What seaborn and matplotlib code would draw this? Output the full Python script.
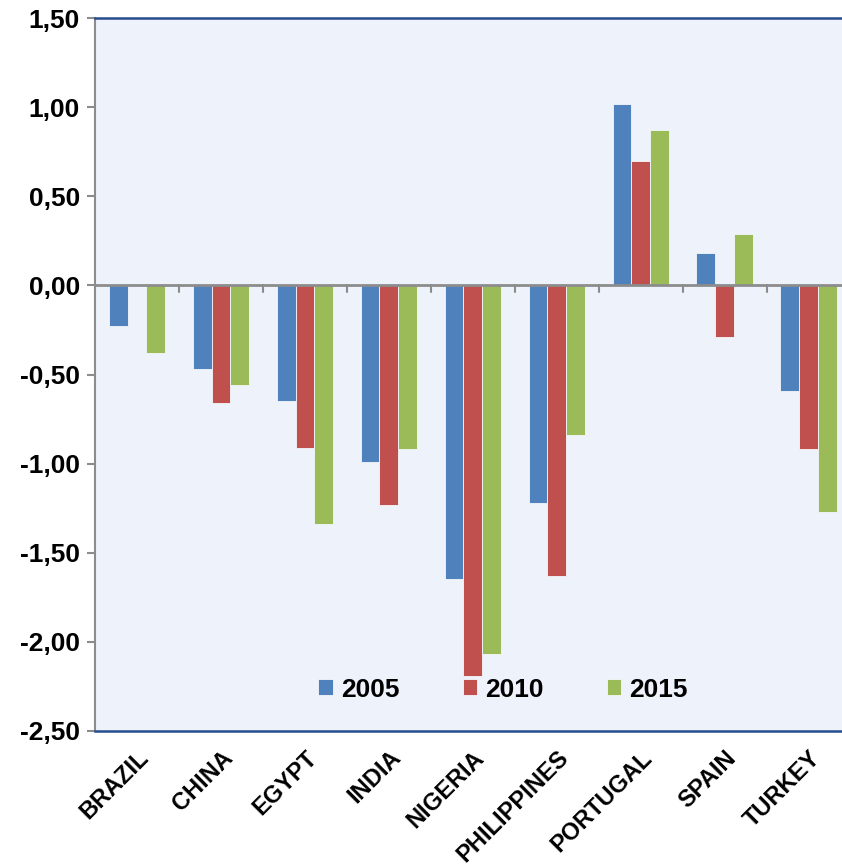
import matplotlib
matplotlib.use('Agg')
import matplotlib.pyplot as plt
import matplotlib.ticker as mticker
import pandas as pd
import seaborn as sns

# data
countries = ['BRAZIL', 'CHINA', 'EGYPT', 'INDIA', 'NIGERIA', 'PHILIPPINES', 'PORTUGAL', 'SPAIN', 'TURKEY']
years = ['2005', '2010', '2015']
vals_2005 = [-0.23, -0.47, -0.65, -0.99, -1.65, -1.22, 1.02, 0.18, -0.59]
vals_2010 = [0.005, -0.66, -0.91, -1.23, -2.19, -1.63, 0.70, -0.29, -0.92]
vals_2015 = [-0.38, -0.56, -1.34, -0.92, -2.07, -0.84, 0.87, 0.29, -1.27]
y_ticks = [-2.5, -2.0, -1.5, -1.0, -0.5, 0.0, 0.5, 1.0, 1.5]

colors = ['#4F81BD', '#C0504D', '#9BBB59']

df = pd.DataFrame({
    'country': countries * 3,
    'year': [y for y in years for _ in countries],
    'value': vals_2005 + vals_2010 + vals_2015,
})

sns.set_style('white')
plt.rcParams['font.family'] = ['Liberation Sans', 'DejaVu Sans']
plt.rcParams['font.weight'] = 'bold'
plt.rcParams['text.color'] = 'black'
plt.rcParams['xtick.color'] = 'black'
plt.rcParams['ytick.color'] = 'black'

fig = plt.figure(figsize=(8.42, 8.67), dpi=100)
# plot area runs a little past the right edge of the picture, as in the source
ax = fig.add_axes([0.113, 0.157, 0.897, 0.822])
ax.set_facecolor('#EEF2FB')

sns.barplot(data=df, x='country', y='value', hue='year', palette=colors,
            width=0.67, saturation=1, edgecolor='#F4F7FC', linewidth=0.6, ax=ax)

ax.set_xlim(-0.5, len(countries) - 0.5)
ax.set_ylim(-2.5, 1.5)
ax.set_yticks(y_ticks)
ax.yaxis.set_major_formatter(mticker.FuncFormatter(lambda v, p: f'{v:.2f}'.replace('.', ',')))
ax.tick_params(axis='y', length=6, width=1.5, color='#8C8C8C', labelcolor='black',
               labelsize=19, pad=5, left=True)
ax.tick_params(axis='x', length=0, labelsize=17, labelcolor='black', pad=11)
for lbl in ax.get_xticklabels():
    lbl.set_rotation(45)
    lbl.set_ha('right')
    lbl.set_rotation_mode('anchor')
    lbl.set_fontweight('bold')
for lbl in ax.get_yticklabels():
    lbl.set_fontweight('bold')
ax.set_xlabel('')
ax.set_ylabel('')

# zero line with small ticks between categories
ax.axhline(0, color='#8C8C8C', lw=2, zorder=1)
for i in range(len(countries) - 1):
    ax.plot([i + 0.5, i + 0.5], [0, -0.035], color='#8C8C8C', lw=1.5, zorder=1)

for side in ['top', 'bottom']:
    ax.spines[side].set_color('#254C8C')
    ax.spines[side].set_linewidth(1.8)
ax.spines['left'].set_color('#8C8C8C')
ax.spines['left'].set_linewidth(1.5)
ax.spines['right'].set_visible(False)

ax.legend(loc='center', bbox_to_anchor=(0.54, 0.058), ncol=3, frameon=False,
          prop={'size': 19, 'weight': 'bold'}, handlelength=0.55, handleheight=0.55,
          handletextpad=0.3, columnspacing=2.4)

fig.savefig('out.png', dpi=100)
